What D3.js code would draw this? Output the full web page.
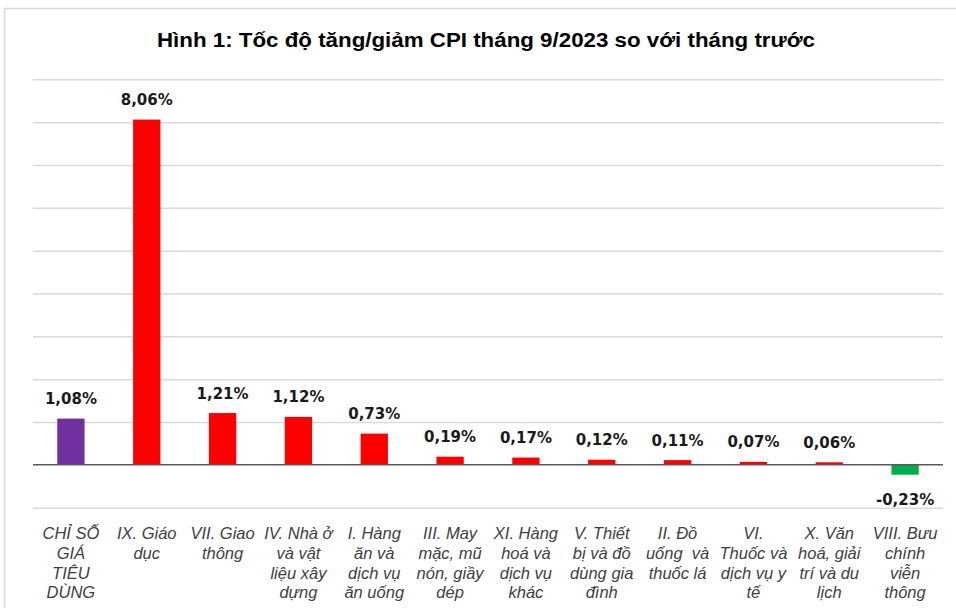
<!doctype html>
<html lang="vi">
<head>
<meta charset="UTF-8" />
<title>Hình 1: Tốc độ tăng/giảm CPI tháng 9/2023</title>
<script src="https://cdn.jsdelivr.net/npm/d3@7"></script>
<style>
  body { margin: 0; background: #fff; }
  svg { display: block; }
</style>
</head>
<body>
<div id="chart"></div>
<script>
// data
const categories = [
  "CHỈ SỐ GIÁ TIÊU DÙNG", "IX. Giáo dục", "VII. Giao thông", "IV. Nhà ở và vật liệu xây dựng",
  "I. Hàng ăn và dịch vụ ăn uống", "III. May mặc, mũ nón, giầy dép", "XI. Hàng hoá và dịch vụ khác",
  "V. Thiết bị và đồ dùng gia đình", "II. Đồ uống và thuốc lá", "VI. Thuốc và dịch vụ y tế",
  "X. Văn hoá, giải trí và du lịch", "VIII. Bưu chính viễn thông"
];
// wrapped the way the original wraps them
const tickLines = [
  ["CHỈ SỐ", "GIÁ", "TIÊU", "DÙNG"],
  ["IX. Giáo", "dục"],
  ["VII. Giao", "thông"],
  ["IV. Nhà ở", "và vật", "liệu xây", "dựng"],
  ["I. Hàng", "ăn và", "dịch vụ", "ăn uống"],
  ["III. May", "mặc, mũ", "nón, giầy", "dép"],
  ["XI. Hàng", "hoá và", "dịch vụ", "khác"],
  ["V. Thiết", "bị và đồ", "dùng gia", "đình"],
  ["II. Đồ", "uống  và", "thuốc lá"],
  ["VI.", "Thuốc và", "dịch vụ y", "tế"],
  ["X. Văn", "hoá, giải", "trí và du", "lịch"],
  ["VIII. Bưu", "chính", "viễn", "thông"]
];
const values = [1.08, 8.06, 1.21, 1.12, 0.73, 0.19, 0.17, 0.12, 0.11, 0.07, 0.06, -0.23];
const yTicks = [-1, 0, 1, 2, 3, 4, 5, 6, 7, 8, 9];

const width = 956, height = 608;
const plotLeft = 33, plotRight = 943, plotTop = 79.3, plotBottom = 507.7;

const svg = d3.select("#chart").append("svg")
  .attr("width", width).attr("height", height);

// chart area frame
svg.append("rect")
  .attr("x", 4.5).attr("y", 8.5)
  .attr("width", 980).attr("height", 620)
  .attr("fill", "none").attr("stroke", "#d9d9d9").attr("stroke-width", 1.5);

// title is a bit stretched in the original
svg.append("text")
  .attr("x", 486).attr("y", 46.5)
  .attr("text-anchor", "middle")
  .attr("textLength", 658).attr("lengthAdjust", "spacingAndGlyphs")
  .style("font-family", "'Liberation Sans', Arial, sans-serif")
  .style("font-weight", "bold").style("font-size", "19.5px")
  .attr("fill", "#000")
  .text("Hình 1: Tốc độ tăng/giảm CPI tháng 9/2023 so với tháng trước");

const x = d3.scaleBand().domain(categories).range([plotLeft, plotRight]).paddingInner(0.64).paddingOuter(0.32);
const y = d3.scaleLinear().domain([-1, 9]).range([plotBottom, plotTop]);

// gridlines
svg.append("g")
  .attr("transform", `translate(${plotLeft},0)`)
  .call(d3.axisLeft(y).tickValues(yTicks.filter(d => d !== 0)).tickSize(-(plotRight - plotLeft)).tickFormat(""))
  .call(g => g.select(".domain").remove())
  .call(g => g.selectAll(".tick line").attr("stroke", "#d9d9d9").attr("stroke-width", 1.5));

const colour = (d, i) => i === 0 ? "#7030a0" : (d < 0 ? "#00b050" : "#ff0000");

svg.append("g").selectAll("rect")
  .data(values)
  .join("rect")
  .attr("x", (d, i) => x(categories[i]))
  .attr("width", x.bandwidth())
  .attr("y", d => y(Math.max(0, d)))
  .attr("height", d => Math.abs(y(d) - y(0)))
  .attr("fill", colour);

// zero line
svg.append("line")
  .attr("x1", plotLeft).attr("x2", plotRight)
  .attr("y1", y(0)).attr("y2", y(0))
  .attr("stroke", "#595959").attr("stroke-width", 1.5);

// value labels
svg.append("g").selectAll("text")
  .data(values)
  .join("text")
  .attr("x", (d, i) => x(categories[i]) + x.bandwidth() / 2)
  .attr("y", d => d >= 0 ? y(d) - 14.5 : y(d) + 30)
  .attr("text-anchor", "middle")
  .style("font-family", "'DejaVu Sans', Verdana, sans-serif")
  .style("font-weight", "bold").style("font-size", "15px")
  .attr("fill", "#1a1a1a")
  .text(d => d.toFixed(2).replace(".", ",") + "%");

// category labels
const lab = svg.append("g").selectAll("text")
  .data(tickLines)
  .join("text")
  .attr("text-anchor", "middle")
  .style("font-family", "'Liberation Sans', Arial, sans-serif")
  .style("font-style", "italic").style("font-size", "16.5px")
  .attr("fill", "#404040")
  .style("white-space", "pre");

lab.selectAll("tspan")
  .data((lines, i) => lines.map(t => ({ t, i })))
  .join("tspan")
  .attr("x", d => x(categories[d.i]) + x.bandwidth() / 2)
  .attr("y", (d, j) => 539 + j * 19.8)
  .text(d => d.t);
</script>
</body>
</html>
